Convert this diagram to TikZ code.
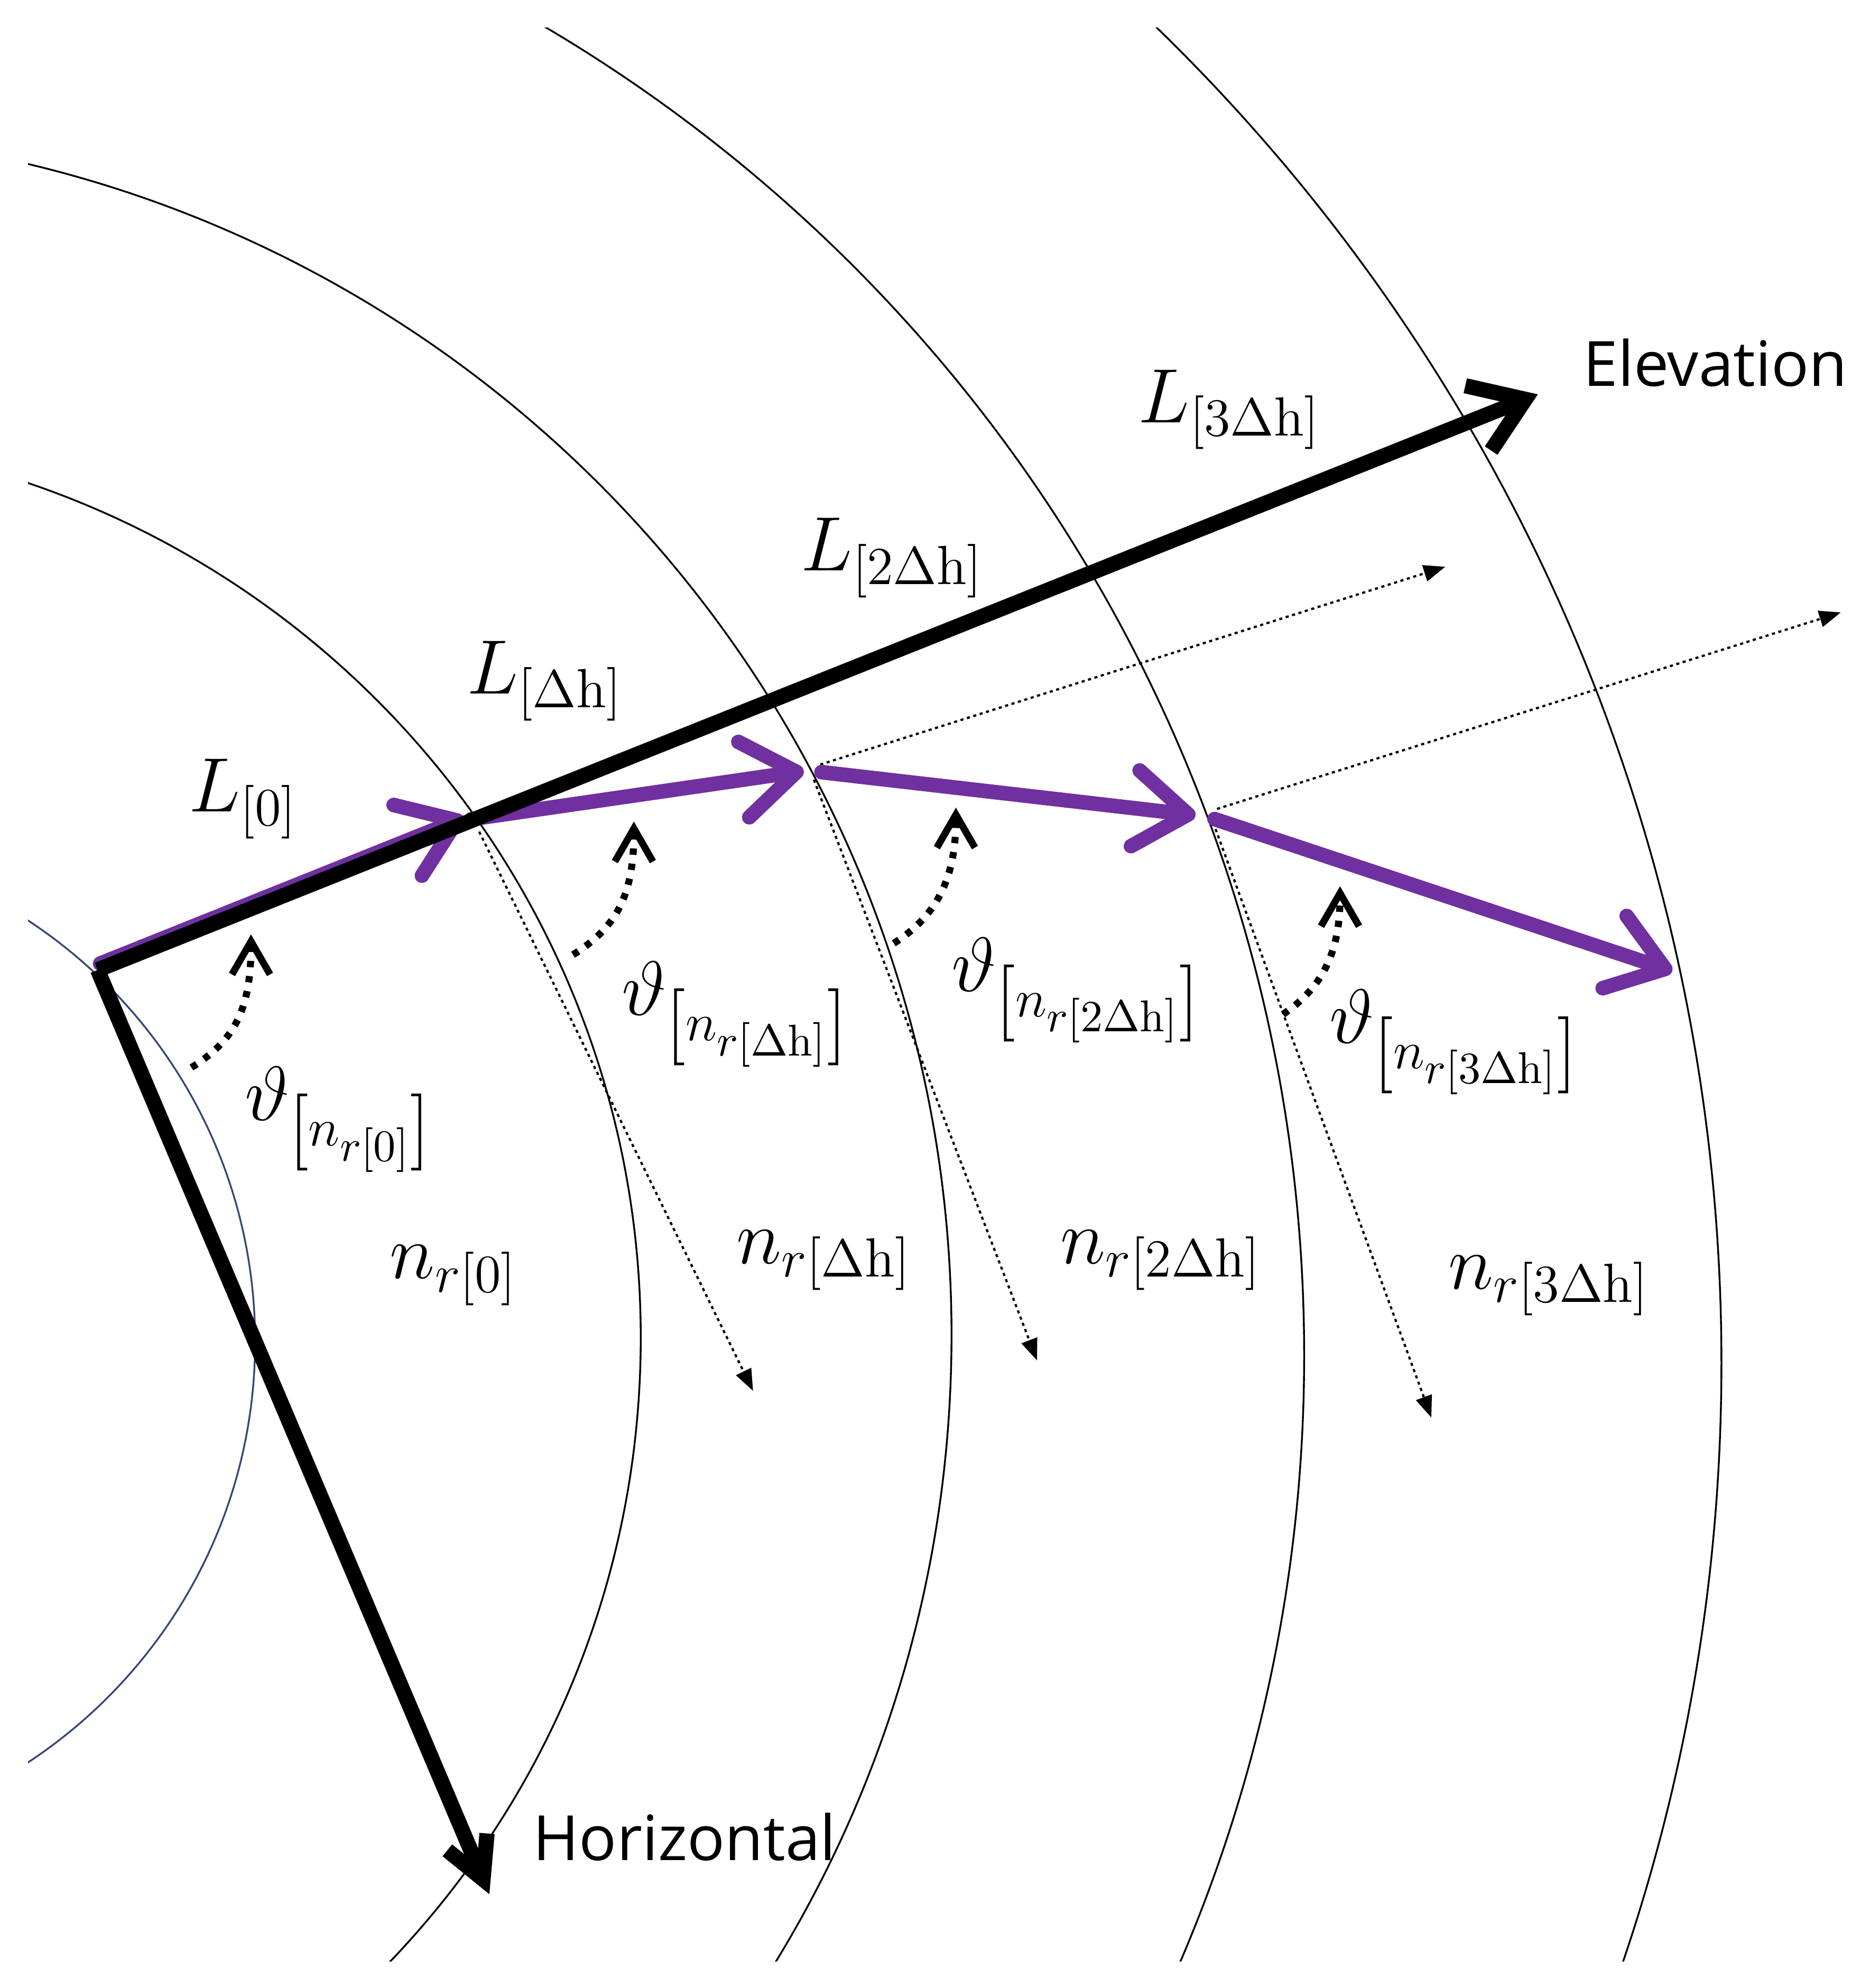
\documentclass[tikz,border=0pt]{standalone}
\usepackage{fontspec}
\setsansfont{Open Sans}
\DeclareMathSizes{16.5}{16.5}{12.4}{10}
\usetikzlibrary{arrows.meta}
\definecolor{rayviolet}{RGB}{112,48,160}
\definecolor{earthblue}{RGB}{52,72,120}
\begin{document}
\begin{tikzpicture}[x=0.01cm,y=-0.01cm,
  shell/.style={line width=0.4pt},
  mathlbl/.style={inner sep=0pt, font=\fontsize{16.5}{20}\selectfont},
  axislbl/.style={inner sep=0pt, font=\sffamily\fontsize{14}{17}\selectfont},
  axisarrow/.style={line width=0.12cm, line join=miter},
  elevtip/.style={-{Straight Barb[length=0.4cm,width=0.55cm]}},
  hortip/.style={-{Straight Barb[length=0.32cm,width=0.34cm]}},
  ray/.style={rayviolet, line width=0.115cm, line cap=round, line join=round,
    -{Straight Barb[length=0.42cm,width=0.6cm,round]}},
  guide/.style={line width=0.5pt, dash pattern=on 0.7pt off 0.8pt,
    -{Triangle[length=0.17cm,width=0.13cm]}},
  anglemark/.style={line width=0.055cm, dash pattern=on 0.05cm off 0.07cm,
    -{Straight Barb[length=0.26cm,width=0.3cm]}}
]
\fill[white] (0,0) rectangle (1475,1568);
\useasboundingbox (0,0) rectangle (1475,1568);

% key points
\coordinate (O) at (77,765);
\coordinate (Ov) at (79,760);
\coordinate (P1) at (366,645);
\coordinate (P1s) at (372,646);
\coordinate (P2) at (634,608);
\coordinate (P2s) at (648,609);
\coordinate (P3) at (943,643);
\coordinate (P3s) at (958,646);
\coordinate (P4) at (1319,766);
\coordinate (E) at (1213,311);
\coordinate (H) at (386,1494);

% shells (interfaces)
\begin{scope}
\clip (22,22) rectangle (1475,1547);
\coordinate (c1) at (-196,1058);
\coordinate (c2) at (-206,1055);
\coordinate (c3) at (-199,1053);
\coordinate (c4) at (-187,1069);
\coordinate (c5) at (-110,1075);
\draw[shell, earthblue] (c1) circle[radius=3.97cm];
\draw[shell] (c2) circle[radius=7.11cm];
\draw[shell] (c3) circle[radius=9.49cm];
\draw[shell] (c4) circle[radius=12.15cm];
\draw[shell] (c5) circle[radius=14.67cm];
\end{scope}

% dotted guide lines
\coordinate (d1s) at (378,656);
\coordinate (d1e) at (594,1097);
\coordinate (d2s) at (642,615);
\coordinate (d2e) at (818,1073);
\coordinate (d3s) at (957,649);
\coordinate (d3e) at (1129,1118);
\coordinate (u1s) at (647,603);
\coordinate (u1e) at (1140,447);
\coordinate (u2s) at (960,638);
\coordinate (u2e) at (1452,483);
\draw[guide] (d1s) -- (d1e);
\draw[guide] (d2s) -- (d2e);
\draw[guide] (d3s) -- (d3e);
\draw[guide] (u1s) -- (u1e);
\draw[guide] (u2s) -- (u2e);

% purple ray path
\draw[ray] (Ov) -- (P1);
\draw[ray] (P1s) -- (P2);
\draw[ray] (P2s) -- (P3);
\draw[ray] (P3s) -- (P4);

% axes
\draw[axisarrow, elevtip] (O) -- (E);
\draw[axisarrow, hortip] (O) -- (H);

% angle markers
\coordinate (m0s) at (151,842);  \coordinate (m0e) at (198,737);
\coordinate (m1s) at (452,753);  \coordinate (m1e) at (500,648);
\coordinate (m2s) at (705,744);  \coordinate (m2e) at (754,637);
\coordinate (m3s) at (1012,800); \coordinate (m3e) at (1057,699);
\draw[anglemark] (m0s) .. controls (186,820) and (198,795) .. (m0e);
\draw[anglemark] (m1s) .. controls (487,731) and (500,705) .. (m1e);
\draw[anglemark] (m2s) .. controls (741,721) and (754,690) .. (m2e);
\draw[anglemark] (m3s) .. controls (1046,777) and (1057,747) .. (m3e);

% labels
\node[mathlbl] (L0) at (192,630) {$L_{[0]}$};
\node[mathlbl] (L1) at (430,537) {$L_{[\Delta\mathrm{h}]}$};
\node[mathlbl] (L2) at (704,440) {$L_{[2\Delta\mathrm{h}]}$};
\node[mathlbl] (L3) at (970,323) {$L_{[3\Delta\mathrm{h}]}$};
\node[axislbl] (elev) at (1353,286) {Elevation};
\node[axislbl] (horiz) at (540,1449) {Horizontal};
\node[mathlbl] (t0) at (267,883) {$\vartheta_{\left[n_{r[0]}\right]}$};
\node[mathlbl] (t1) at (580,800) {$\vartheta_{\left[n_{r[\Delta\mathrm{h}]}\right]}$};
\node[mathlbl] (t2) at (849,781) {$\vartheta_{\left[n_{r[2\Delta\mathrm{h}]}\right]}$};
\node[mathlbl] (t3) at (1147,822) {$\vartheta_{\left[n_{r[3\Delta\mathrm{h}]}\right]}$};
\node[mathlbl] (n0) at (358,1006) {$n_{r[0]}$};
\node[mathlbl] (n1) at (650,994) {$n_{r[\Delta\mathrm{h}]}$};
\node[mathlbl] (n2) at (916,994) {$n_{r[2\Delta\mathrm{h}]}$};
\node[mathlbl] (n3) at (1222,1014) {$n_{r[3\Delta\mathrm{h}]}$};
\end{tikzpicture}
\end{document}
